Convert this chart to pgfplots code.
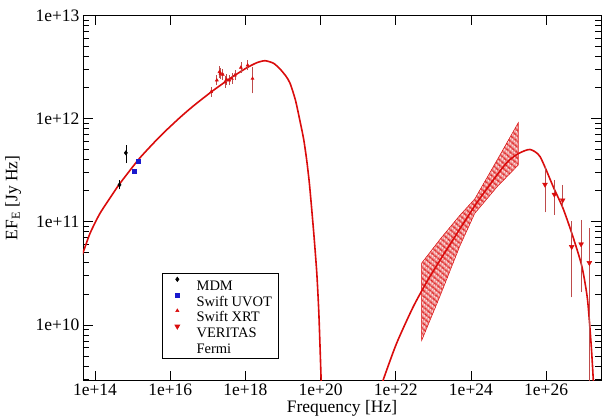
\documentclass[border=0pt]{standalone}
\usepackage{fontspec}
\setmainfont{Liberation Serif}
\usepackage{pgfplots}
\usepackage{pgfplotstable}
\pgfplotsset{compat=1.18}
\usetikzlibrary{patterns.meta}
\definecolor{cred}{RGB}{218,12,12}
\definecolor{ered}{RGB}{190,75,75}
\definecolor{cblue}{RGB}{25,25,205}

% log10(nu)  log10(nuFnu)
\pgfplotstableread{
x y
13.60 10.63
13.69 10.71
13.87 10.89
14.13 11.08
14.49 11.28
14.66 11.37
15.15 11.60
15.50 11.74
15.82 11.86
16.26 12.01
16.61 12.12
17.10 12.26
17.60 12.39
18.03 12.49
18.30 12.54
18.52 12.56
18.75 12.535
18.92 12.48
19.08 12.41
19.19 12.34
19.33 12.18
19.45 11.98
19.55 11.80
19.63 11.60
19.70 11.38
19.76 11.14
19.83 10.84
19.90 10.50
19.95 10.15
19.98 9.85
20.03 9.30
}\sync

\pgfplotstableread{
x y
21.62 9.38
21.65 9.45
22.02 9.82
22.47 10.18
22.91 10.47
23.53 10.83
24.15 11.18
24.77 11.49
25.00 11.59
25.26 11.66
25.57 11.70
25.84 11.63
26.20 11.33
26.45 11.13
26.70 10.87
26.95 10.57
27.10 10.25
27.20 9.80
27.25 9.50
27.28 9.30
}\ic

\pgfplotstableread{
x y
22.69 10.60
23.20 10.84
23.70 11.06
24.10 11.22
24.70 11.60
25.26 11.96
25.26 11.55
24.70 11.34
24.10 11.08
23.70 10.76
23.20 10.30
22.69 9.85
}\fermi

\pgfplotstableread{
x y ep em
14.82 11.667 0.046 0.071
14.65 11.357 0.015 0.015
}\mdm

\pgfplotstableread{
x y
15.15 11.587
15.045 11.49
}\uvot

\pgfplotstableread{
x y ep em
17.09 12.258 0.025 0.025
17.24 12.371 0.025 0.025
17.31 12.451 0.03 0.03
17.34 12.436 0.03 0.03
17.40 12.426 0.025 0.025
17.46 12.354 0.03 0.03
17.50 12.378 0.025 0.025
17.57 12.371 0.025 0.025
17.64 12.387 0.025 0.025
17.72 12.419 0.025 0.025
17.88 12.494 0.025 0.025
18.06 12.516 0.025 0.025
18.19 12.387 0.09 0.12
}\xrt

\pgfplotstableread{
x y ep em
25.97 11.361 0.145 0.242
26.22 11.264 0.113 0.168
26.44 11.209 0.119 0.039
26.68 10.757 0.217 0.461
26.93 10.783 0.206 0.435
27.15 10.602 0.307 2.0
}\veritas

\begin{document}
\begin{tikzpicture}
\begin{axis}[
  scale only axis, width=518pt, height=365.2pt,
  xmin=13.68, xmax=27.46, ymin=9.462, ymax=13,
  xtick={14,16,18,20,22,24,26},
  xticklabels={1e+14,1e+16,1e+18,1e+20,1e+22,1e+24,1e+26},
  ytick={10,11,12,13},
  yticklabels={1e+10,1e+11,1e+12,1e+13},
  minor ytick={9.477,9.602,9.699,9.778,9.845,9.903,9.954,10.301,10.477,10.602,10.699,10.778,10.845,10.903,10.954,11.301,11.477,11.602,11.699,11.778,11.845,11.903,11.954,12.301,12.477,12.602,12.699,12.778,12.845,12.903,12.954},
  tick align=inside,
  major tick length=10pt, minor tick length=6pt,
  every tick/.style={black, line width=0.8pt},
  axis line style={line width=0.9pt},
  ticklabel style={font=\fontsize{17.5}{20}\selectfont},
  /pgf/number format/assume math mode=true,
  xlabel={Frequency [Hz]},
  ylabel={EF\textsubscript{E} [Jy Hz]},
  label style={font=\fontsize{17.5}{20}\selectfont},
  xlabel style={at={(axis description cs:0.5,-0.077)}, anchor=center},
  ylabel style={at={(axis description cs:-0.135,0.5)}, anchor=center},
  legend style={at={(rel axis cs:0.152,0.2935)}, anchor=north west,
    draw=black, line width=0.6pt, fill=white,
    font=\fontsize{14.5}{15.5}\selectfont,
    inner xsep=5pt, inner ysep=2.7pt, row sep=-0.3pt,
    nodes={inner sep=1pt, text height=13pt, text depth=1pt}},
  legend cell align=left,
  legend image code/.code={\path (0pt,0pt) (28pt,0pt); \draw[#1] plot coordinates {(10pt,5pt)};},
]
% model curves
\addplot[cred, line width=1.6pt, smooth, tension=0.4, forget plot] table[x=x,y=y] {\sync};
\addplot[draw=cred, line width=0.5pt, pattern={Lines[angle=78,distance=1.15pt,line width=0.55pt]}, pattern color=cred, forget plot] table[x=x,y=y] {\fermi} -- cycle;
\addplot[cred, line width=1.6pt, smooth, tension=0.4, forget plot] table[x=x,y=y] {\ic};

% data
\addplot[only marks, mark=diamond*, mark size=2.2pt, black,
  error bars/.cd, y dir=both, y explicit, error mark=-,
  error bar style={black, line width=0.7pt}, error mark options={mark size=3pt, line width=0.7pt}]
  table[x=x,y=y,y error plus=ep,y error minus=em] {\mdm};
\addlegendentry{MDM}
\addplot[only marks, mark=square*, mark size=2pt, cblue] table[x=x,y=y] {\uvot};
\addlegendentry{Swift UVOT}
\addplot[only marks, mark=triangle*, mark size=1.8pt, cred,
  error bars/.cd, y dir=both, y explicit, error mark=-,
  error bar style={ered, line width=0.7pt}, error mark options={mark size=2.5pt, line width=0.7pt}]
  table[x=x,y=y,y error plus=ep,y error minus=em] {\xrt};
\addlegendentry{Swift XRT}
\addplot[only marks, mark=triangle*, mark options={rotate=180}, mark size=2.8pt, cred,
  error bars/.cd, y dir=both, y explicit, error mark=-,
  error bar style={ered, line width=0.8pt}, error mark options={mark size=3pt, line width=0.8pt}]
  table[x=x,y=y,y error plus=ep,y error minus=em] {\veritas};
\addlegendentry{VERITAS}
\addlegendimage{empty legend}
\addlegendentry{Fermi}
\end{axis}
\pgfresetboundingbox
\path (current axis.south west) ++(-83pt,-38.5pt) coordinate (bbA);
\path (current axis.north east) ++(15pt,15.3pt) coordinate (bbB);
\useasboundingbox (bbA) rectangle (bbB);
\end{tikzpicture}
\end{document}
